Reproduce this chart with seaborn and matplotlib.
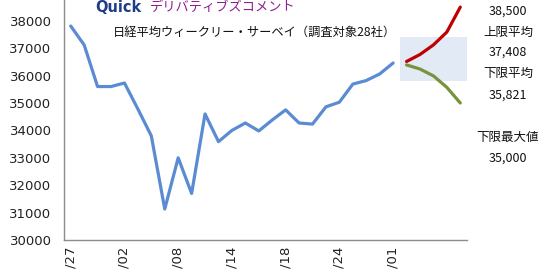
import matplotlib
matplotlib.use("Agg")
import matplotlib.pyplot as plt
import seaborn as sns
import pandas as pd
import numpy as np

# ---- data ----
actual_values = [37810, 37120, 35600, 35600, 35730, 34780, 33800, 31130, 33000, 31700,
                 34600, 33590, 34000, 34270, 33980, 34380, 34750, 34270, 34230, 34860,
                 35030, 35690, 35820, 36060, 36460]
upper_values = [36515, 36770, 37120, 37590, 38500]
lower_values = [36390, 36240, 35990, 35570, 35000]
tick_labels = ["/27", "/02", "/08", "/14", "/18", "/24", "/01"]
upper_avg = 37408
lower_avg = 35821
upper_max = 38500
lower_max = 35000
n_categories = 30

sns.set_theme(style="white")
plt.rcParams['font.family'] = ['DejaVu Sans', 'Noto Sans CJK JP']
JP = ['Noto Sans CJK JP', 'DejaVu Sans']

fig = plt.figure(figsize=(5.5, 2.7), dpi=100)
ax = fig.add_axes([64 / 550, 1 - 240 / 270, (467 - 64) / 550, 240 / 270])

n_act = len(actual_values)
df_act = pd.DataFrame({"x": np.arange(n_act), "y": actual_values})
fc_x = np.arange(n_act, n_act + len(upper_values))
df_up = pd.DataFrame({"x": fc_x, "y": upper_values})
df_lo = pd.DataFrame({"x": fc_x, "y": lower_values})

# range box
ax.fill_between([n_act - 0.5, n_act + len(upper_values) - 0.5], lower_avg, upper_avg,
                color="#E1EAF5", zorder=1, linewidth=0)

sns.lineplot(data=df_act, x="x", y="y", ax=ax, color="#5A8BD3", linewidth=2.3, zorder=3)
sns.lineplot(data=df_up, x="x", y="y", ax=ax, color="#C00000", linewidth=2.3, zorder=3)
sns.lineplot(data=df_lo, x="x", y="y", ax=ax, color="#77933C", linewidth=2.3, zorder=3)

ax.set_xlim(-0.5, n_categories - 0.5)
ax.set_ylim(30000, 30000 + 240 / 27.4 * 1000)
ax.set_yticks(range(30000, 38001, 1000))
ax.set_yticklabels([str(v) for v in range(30000, 38001, 1000)], fontsize=9.5, color="#222222")
ax.set_xticks(range(0, n_act, 4))
ax.set_xticklabels(tick_labels, rotation=90, fontsize=9.5, color="#222222", va="top")
ax.tick_params(axis="y", length=0, pad=9)
ax.tick_params(axis="x", length=0, pad=5)
ax.set_xlabel("")
ax.set_ylabel("")
for s in ["top", "right"]:
    ax.spines[s].set_visible(False)
for s in ["left", "bottom"]:
    ax.spines[s].set_color("#8C8C8C")
    ax.spines[s].set_linewidth(1.0)
ax.set_facecolor("none")

# title text
fig.text(254 / 550, 1 - 32 / 270, "日経平均ウィークリー・サーベイ（調査対象28社）",
         ha="center", va="center", fontsize=8.8, color="#111111", family=JP)

# logo (top strip)
fig.text(95 / 550, 1 - 7 / 270, "Quick", ha="left", va="center", fontsize=10.5,
         fontweight="bold", color="#1F3C88", family=['DejaVu Sans'])
fig.text(150 / 550, 1 - 7 / 270, "デリバティブズコメント", ha="left", va="center",
         fontsize=9.5, color="#8E1F8E", family=JP)

# right annotations
cx = 508 / 550
def rtext(ypx, s):
    fig.text(cx, 1 - ypx / 270, s, ha="center", va="center", fontsize=9,
             color="#111111", family=JP)

rtext(11, f"{upper_max:,}")
rtext(32, "上限平均")
rtext(52, f"{upper_avg:,}")
rtext(73, "下限平均")
rtext(95, f"{lower_avg:,}")
rtext(137, "下限最大値")
rtext(158, f"{lower_max:,}")

fig.savefig("out.png", dpi=100)
